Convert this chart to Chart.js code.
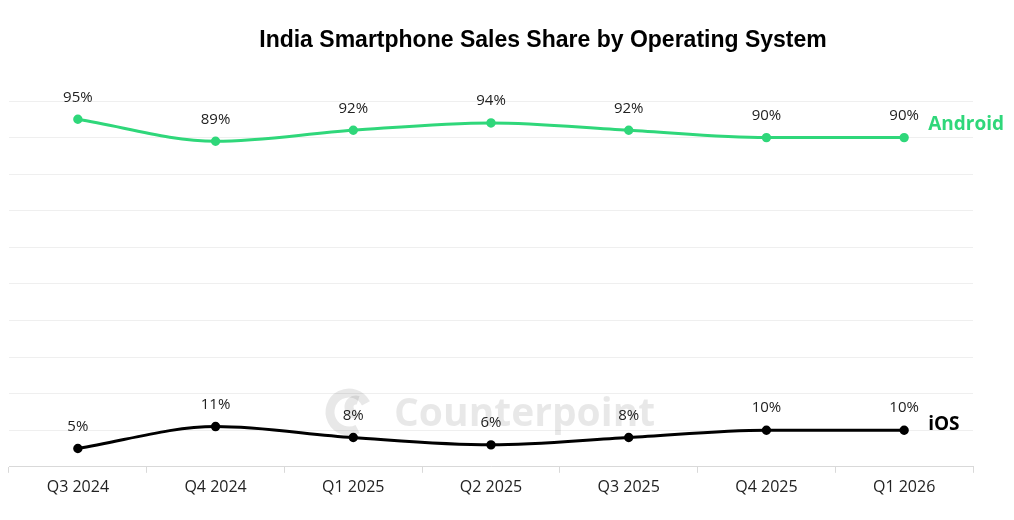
<!DOCTYPE html>
<html>
<head>
<meta charset="utf-8">
<script src="https://cdn.jsdelivr.net/npm/chart.js@4.4.1/dist/chart.umd.min.js"></script>
<style>
html,body{margin:0;padding:0;background:#fff;}
#wrap{width:1014px;height:520px;position:relative;}
</style>
</head>
<body>
<div id="wrap"><canvas id="c" width="1014" height="520"></canvas></div>
<script>
const categories = ['Q3 2024','Q4 2024','Q1 2025','Q2 2025','Q3 2025','Q4 2025','Q1 2026'];
const androidShare = [95, 89, 92, 94, 92, 90, 90];
const iosShare = [5, 11, 8, 6, 8, 10, 10];
const seriesNames = ['Android', 'iOS'];
const titleText = 'India Smartphone Sales Share by Operating System';
const watermarkText = 'Counterpoint';

const GREEN = '#2fd77a';
const BLACK = '#000000';

const overlay = {
  id: 'overlay',
  beforeDatasetsDraw(chart) {
    const ctx = chart.ctx;
    ctx.save();
    ctx.fillStyle = 'rgba(0,0,0,0.09)';
    ctx.font = 'bold 39px "Open Sans", sans-serif';
    ctx.textAlign = 'left';
    ctx.textBaseline = 'middle';
    ctx.fillText(watermarkText, 394, 415);
    ctx.strokeStyle = 'rgba(0,0,0,0.09)';
    ctx.lineWidth = 9;
    ctx.beginPath();
    ctx.arc(349, 412, 19, Math.PI * 0.35, Math.PI * 1.85);
    ctx.stroke();
    ctx.beginPath();
    ctx.arc(356, 407, 7, Math.PI * 0.5, Math.PI * 1.6);
    ctx.stroke();
    ctx.restore();
  },
  afterDatasetsDraw(chart) {
    const ctx = chart.ctx;
    ctx.save();
    ctx.fillStyle = '#000';
    ctx.font = 'bold 23px "Liberation Sans", Arial, sans-serif';
    ctx.textAlign = 'center';
    ctx.textBaseline = 'middle';
    ctx.fillText(titleText, 543, 41);
    ctx.font = '15px "Open Sans", sans-serif';
    ctx.fillStyle = '#222';
    chart.data.datasets.forEach((ds, di) => {
      const meta = chart.getDatasetMeta(di);
      meta.data.forEach((pt, i) => {
        ctx.fillText(ds.data[i] + '%', pt.x, pt.y - 22);
      });
      const last = meta.data[meta.data.length - 1];
      ctx.save();
      ctx.font = 'bold 19px "Open Sans", sans-serif';
      ctx.textAlign = 'left';
      ctx.fillStyle = ds.borderColor;
      ctx.fillText(ds.label, last.x + 24, last.y - (di === 0 ? 13 : 6));
      ctx.restore();
    });
    ctx.restore();
  }
};

new Chart(document.getElementById('c'), {
  type: 'line',
  data: {
    labels: categories,
    datasets: [
      {label: seriesNames[0], data: androidShare, borderColor: GREEN, backgroundColor: GREEN,
       borderWidth: 3, pointRadius: 3.2, pointHoverRadius: 3.2, cubicInterpolationMode: 'monotone'},
      {label: seriesNames[1], data: iosShare, borderColor: BLACK, backgroundColor: BLACK,
       borderWidth: 3, pointRadius: 3.2, pointHoverRadius: 3.2, cubicInterpolationMode: 'monotone'}
    ]
  },
  options: {
    responsive: false,
    animation: false,
    events: [],
    layout: {padding: {left: 9, right: 41, top: 101, bottom: 18}},
    plugins: {legend: {display: false}, title: {display: false}, tooltip: {enabled: false}},
    scales: {
      x: {
        offset: true,
        border: {display: true, color: '#d9d9d9', width: 1},
        grid: {offset: true, drawOnChartArea: false, drawTicks: true, tickLength: 6, color: '#d9d9d9'},
        ticks: {color: '#222', font: {family: '"Open Sans", sans-serif', size: 16}, padding: 5}
      },
      y: {
        min: 0, max: 100,
        afterFit(scale) { scale.width = 0; },
        border: {display: false},
        grid: {color: '#efefef', drawTicks: false},
        ticks: {display: false, stepSize: 10}
      }
    }
  },
  plugins: [overlay]
});
</script>
</body>
</html>
